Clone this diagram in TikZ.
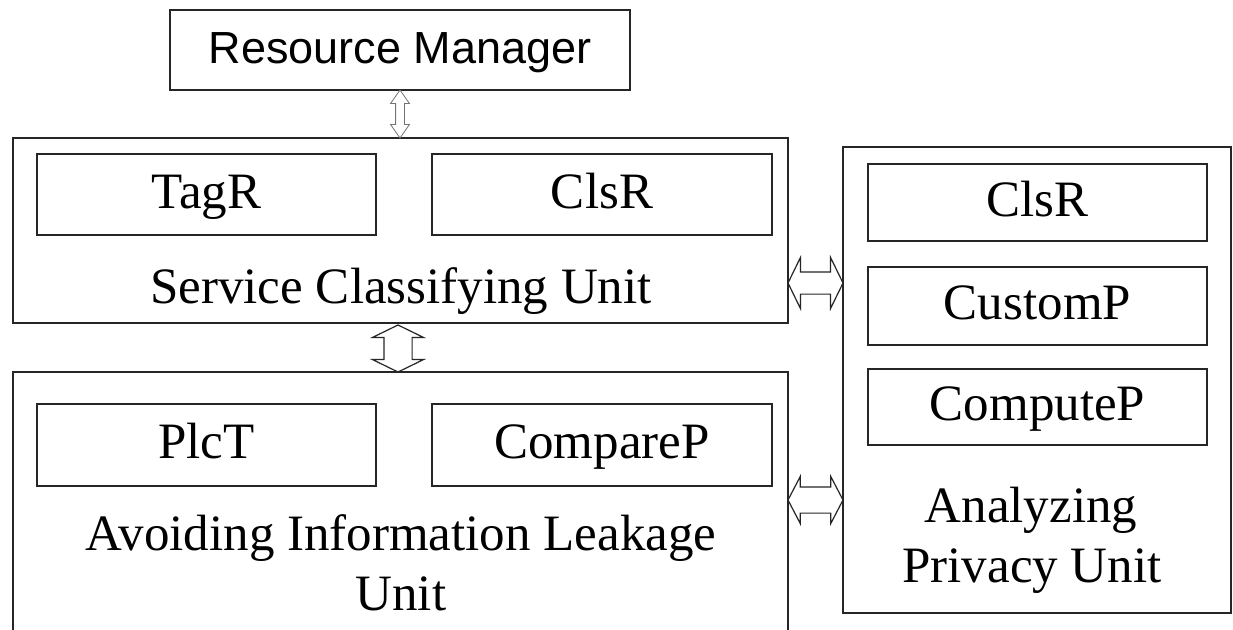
\documentclass[tikz,border=0pt]{standalone}
\usepackage{fontspec}
\setmainfont{Liberation Serif}
\newfontfamily\headsans{Liberation Sans}
\usetikzlibrary{shapes.arrows}
\begin{document}
\begin{tikzpicture}[x=1pt,y=-1pt,
  frame/.style={draw=black!85, line width=1.4pt, rectangle, inner sep=0pt},
  part/.style={frame, font=\fontsize{51}{58}\selectfont, text height=35pt, text depth=8pt},
  lbl/.style={font=\fontsize{51}{58}\selectfont, anchor=base, inner sep=0pt},
  hollow/.style={double arrow, draw=black!85, fill=white, line width=1.2pt,
    inner xsep=0pt, double arrow head indent=0pt},
]
\path[use as bounding box, fill=white] (0,0) rectangle (1233,629);

% resource manager
\node[frame, minimum width=460, minimum height=80,
  font=\headsans\fontsize{45}{50}\selectfont, text height=32pt, text depth=6pt]
  (rm) at (400,50) {Resource Manager};

% service classifying unit
\node[frame, minimum width=775, minimum height=185] (scu) at (400.5,230.5) {};
\node[part, minimum width=339, minimum height=81] (tagr) at (206.5,194.5) {TagR};
\node[part, minimum width=340, minimum height=81] (clsa) at (602,194.5) {ClsR};
\node[lbl] (scul) at (401,303) {Service Classifying Unit};

% avoiding information leakage unit
\node[frame, minimum width=775, minimum height=273] (ail) at (400.5,508.5) {};
\node[part, minimum width=339, minimum height=82] (plct) at (206.5,445) {PlcT};
\node[part, minimum width=340, minimum height=82] (cmpp) at (602,445) {CompareP};
\node[lbl] (aila) at (401,550) {Avoiding Information Leakage};
\node[lbl] (ailb) at (401,610) {Unit};

% analyzing privacy unit
\node[frame, minimum width=388, minimum height=466] (apu) at (1037,380) {};
\node[part, minimum width=339, minimum height=77] (clsb) at (1037.5,202.5) {ClsR};
\node[part, minimum width=339, minimum height=78] (cusp) at (1037.5,306) {CustomP};
\node[part, minimum width=339, minimum height=76] (comp) at (1037.5,407) {ComputeP};
\node[lbl] (apua) at (1031,522) {Analyzing};
\node[lbl] (apub) at (1032,582) {Privacy Unit};

% two-way links between the units
\node[hollow, minimum height=48, inner ysep=4pt, double arrow head extend=5,
  double arrow tip angle=70, line width=0.8pt, draw=black!55, rotate=90]
  (a0) at (400,114) {};
\node[hollow, minimum height=47, inner ysep=13.5pt, double arrow head extend=11.5,
  double arrow tip angle=128, rotate=90] (a1) at (398,348.5) {};
\node[hollow, minimum height=55, inner ysep=10.5pt, double arrow head extend=14.5,
  double arrow tip angle=128] (a2) at (815.5,283) {};
\node[hollow, minimum height=55, inner ysep=12.5pt, double arrow head extend=10.5,
  double arrow tip angle=125] (a3) at (815.5,500) {};
\end{tikzpicture}
\end{document}
